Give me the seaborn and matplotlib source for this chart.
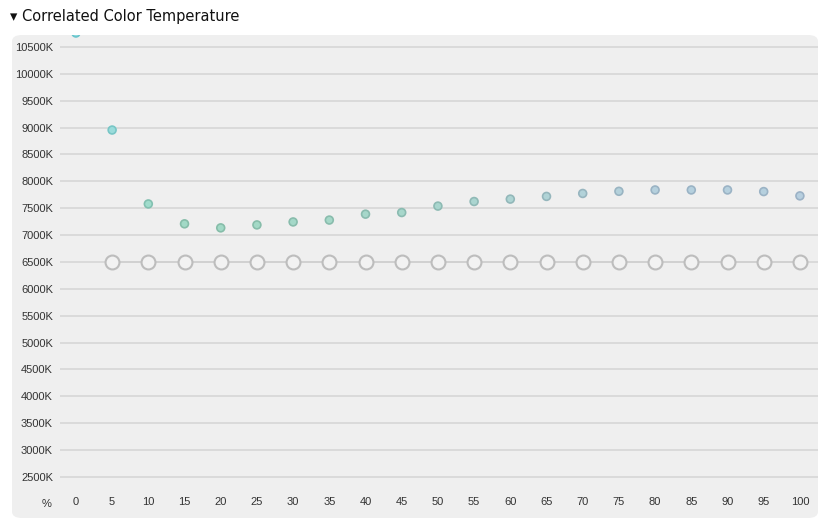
import matplotlib
matplotlib.use("Agg")
from matplotlib import pyplot as plt
from matplotlib.patches import FancyBboxPatch
import seaborn as sns
import pandas as pd

brightness = [0, 5, 10, 15, 20, 25, 30, 35, 40, 45, 50, 55, 60, 65, 70, 75, 80, 85, 90, 95, 100]
cct = [10760, 8955, 7580, 7210, 7135, 7190, 7245, 7280, 7390, 7420, 7540, 7625, 7670, 7720,
       7775, 7815, 7840, 7840, 7840, 7810, 7730]
target_x = brightness[1:]
target = [6500] * len(target_x)

point_colors = ["#92dde0", "#9adcdb", "#a0dccc", "#a2d9c6", "#a2d9c6", "#a3d9c6", "#a4d8c8",
                "#a5d8c8", "#a6d7ca", "#a7d7cb", "#a9d6ce", "#abd5d0", "#aed4d3", "#b0d3d6",
                "#b2d2d9", "#b4d1db", "#b5d0dd", "#b5d0de", "#b6d0de", "#b6d0de", "#b7cfdf"]
edge_colors = ["#6ac4cc", "#78c6c6", "#82c0b0", "#86bda9", "#86bda9", "#87bdaa", "#88bcac",
               "#89bcad", "#8abbaf", "#8bbbb1", "#8dbab3", "#8fb9b6", "#92b7b9", "#95b6bc",
               "#97b5bf", "#99b4c2", "#9ab3c4", "#9ab3c5", "#9bb3c5", "#9bb3c5", "#9cb2c6"]


def main():
    sns.set_theme(style="white")
    plt.rcParams["font.family"] = ["Liberation Sans", "DejaVu Sans"]
    fig = plt.figure(figsize=(8.29, 5.29), dpi=100)
    fig.patch.set_facecolor("white")
    W, H = 829, 529
    bg = FancyBboxPatch((12 / W, 11 / H), 806 / W, 483 / H, boxstyle="round,pad=0,rounding_size=0.012",
                        transform=fig.transFigure, facecolor="#efefef", edgecolor="none", zorder=-5)
    fig.patches.append(bg)
    fig.text(10 / W, 1 - 16 / H, "\u25be Correlated Color Temperature", fontsize=10.5,
             va="center", ha="left", color="#111111", family=["DejaVu Sans"])

    ax = fig.add_axes([60 / W, 1 - 490 / H, 758 / W, 455 / H])
    ax.set_zorder(2)
    ax.set_facecolor("none")
    ax.set_xlim(-2.2, 102.5)
    ax.set_ylim(2258, 10723)
    ax.set_yticks(range(2500, 10501, 500))
    ax.set_yticklabels([f"{v}K" for v in range(2500, 10501, 500)], fontsize=8, color="#333333")
    ax.set_xticks(brightness)
    ax.set_xticklabels([str(b) for b in brightness], fontsize=8, color="#333333")
    ax.tick_params(length=0, pad=5)
    ax.grid(axis="y", color="#d6d6d6", linewidth=1.2)
    for s in ax.spines.values():
        s.set_visible(False)

    tdf = pd.DataFrame({"x": target_x, "y": target})
    sns.lineplot(data=tdf, x="x", y="y", color="#d0d0d0", linewidth=1.2, ax=ax, zorder=2)
    sns.scatterplot(data=tdf, x="x", y="y", s=100, facecolor="#f2f2f2", edgecolor="#bdbdbd",
                    linewidth=1.5, ax=ax, zorder=3)
    df = pd.DataFrame({"x": brightness, "y": cct})
    sns.scatterplot(data=df, x="x", y="y", s=32, c=point_colors, edgecolor=edge_colors,
                    linewidth=1.2, ax=ax, zorder=4)
    ax.set_xlabel("")
    ax.set_ylabel("")
    fig.text(47 / W, 1 - 504 / H, "%", fontsize=8, color="#333333", ha="center", va="center")
    fig.savefig("out.png", dpi=100)


if __name__ == "__main__":
    main()
